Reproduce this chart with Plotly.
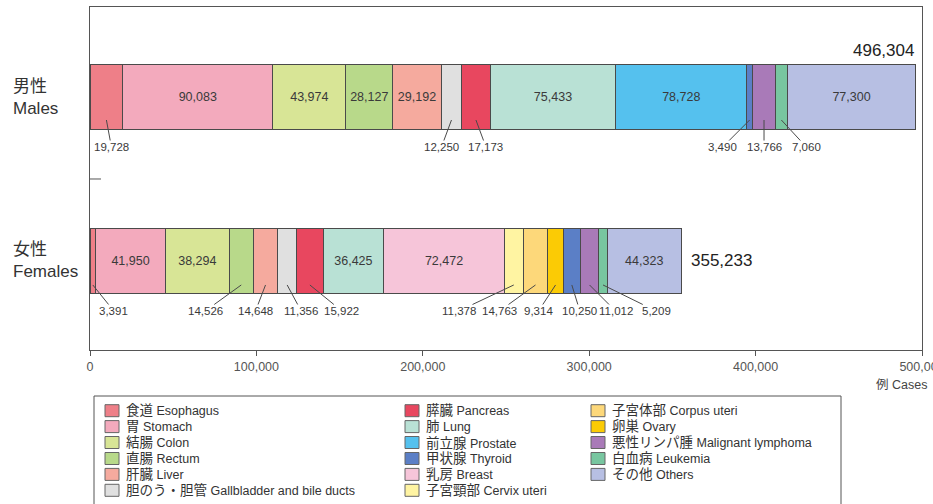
import plotly.graph_objects as go

# ---------------- data ----------------
sexes = ["Males", "Females"]
sex_labels = ["男性<br>Males", "女性<br>Females"]

jp_names = ["食道", "胃", "結腸", "直腸", "肝臓", "胆のう・胆管",
            "膵臓", "肺", "前立腺", "甲状腺", "乳房", "子宮頸部",
            "子宮体部", "卵巣", "悪性リンパ腫", "白血病", "その他"]
en_names = ["Esophagus", "Stomach", "Colon", "Rectum", "Liver", "Gallbladder and bile ducts",
            "Pancreas", "Lung", "Prostate", "Thyroid", "Breast", "Cervix uteri",
            "Corpus uteri", "Ovary", "Malignant lymphoma", "Leukemia", "Others"]
colors = ["#ee7f88", "#f3aabd", "#d8e596", "#b8d98a", "#f5aa9e", "#e0e0e0",
          "#e8475f", "#b9e1d5", "#55c1ee", "#5b7fc6", "#f6c5d9", "#fff4a2",
          "#fdd87a", "#fbcb05", "#a97ab8", "#78c6a0", "#b7bfe3"]
male_cases = [19728, 90083, 43974, 28127, 29192, 12250,
              17173, 75433, 78728, 3490, 0, 0,
              0, 0, 13766, 7060, 77300]
female_cases = [3391, 41950, 38294, 14526, 14648, 11356,
                15922, 36425, 0, 10250, 72472, 11378,
                14763, 9314, 11012, 5209, 44323]
stack_order = ["Esophagus", "Stomach", "Colon", "Rectum", "Liver", "Gallbladder and bile ducts",
               "Pancreas", "Lung", "Prostate", "Breast", "Cervix uteri", "Corpus uteri",
               "Ovary", "Thyroid", "Malignant lymphoma", "Leukemia", "Others"]
x_ticks = [0, 100000, 200000, 300000, 400000, 500000]
x_tick_labels = ["0", "100,000", "200,000", "300,000", "400,000", "500,000"]

# ---------------- style ----------------
FONT = "Liberation Sans, Noto Sans CJK JP, sans-serif"
W, H = 933, 504
ML, MR, MT, MB = 90, 11, 7, 154
PW, PH = W - ML - MR, H - MT - MB
INSIDE_MIN = 25000

def px_x(p):
    return (p - ML) / PW

def px_y(p):
    return (H - MB - p) / PH

# label offsets (pixels) for the small segments
offsets = {
    "Males": {"Esophagus": 5, "Gallbladder and bile ducts": -10, "Pancreas": 10,
              "Thyroid": -27, "Malignant lymphoma": 0, "Leukemia": 25},
    "Females": {"Esophagus": 21, "Rectum": -36, "Liver": -10, "Gallbladder and bile ducts": 14,
                "Pancreas": 32, "Cervix uteri": -55, "Corpus uteri": -36, "Ovary": -17,
                "Thyroid": 8, "Malignant lymphoma": 26, "Leukemia": 53},
}
tip_shift = {"Males": -23, "Females": -24}
label_drop = {"Males": 27, "Females": 26}

values_by_sex = {"Males": male_cases, "Females": female_cases}

fig = go.Figure()
for name in stack_order:
    i = en_names.index(name)
    vals = [male_cases[i], female_cases[i]]
    fig.add_trace(go.Bar(
        orientation="h", y=sexes, x=vals, name=name,
        marker=dict(color=colors[i], line=dict(color="#4a4a4a", width=1)),
        text=[f"{v:,}" if v >= INSIDE_MIN else "" for v in vals],
        textposition="inside", insidetextanchor="middle", textangle=0,
        insidetextfont=dict(family=FONT, size=12.5, color="#3a3a3a"),
        showlegend=False, hoverinfo="x+name",
    ))

annotations = []
for sex in sexes:
    vals = values_by_sex[sex]
    cum = 0
    for name in stack_order:
        v = vals[en_names.index(name)]
        if 0 < v < INSIDE_MIN:
            annotations.append(dict(
                x=cum + v / 2, y=sex, xref="x", yref="y", yshift=tip_shift[sex],
                text=f"{v:,}", showarrow=True, arrowhead=0, arrowwidth=1,
                arrowcolor="#4a4a4a", ax=offsets[sex].get(name, 0), ay=label_drop[sex],
                font=dict(family=FONT, size=11.5, color="#3a3a3a"), borderpad=0,
            ))
        cum += v

# totals
m_total = sum(male_cases)
f_total = sum(female_cases)
annotations.append(dict(x=m_total, y="Males", xref="x", yref="y", xanchor="right",
                        yshift=47, xshift=0, showarrow=False, text=f"{m_total:,}",
                        font=dict(family=FONT, size=17, color="#222")))
annotations.append(dict(x=f_total, y="Females", xref="x", yref="y", xanchor="left",
                        xshift=8, showarrow=False, text=f"{f_total:,}",
                        font=dict(family=FONT, size=17, color="#222")))

# sex labels
for sex, lab in zip(sexes, sex_labels):
    annotations.append(dict(x=px_x(11), y=sex, xref="paper", yref="y", xanchor="left",
                            align="left", showarrow=False, text=lab,
                            font=dict(family=FONT, size=17, color="#333")))

# axis unit
annotations.append(dict(x=px_x(874), y=px_y(385), xref="paper", yref="paper",
                        xanchor="left", yanchor="middle",
                        showarrow=False, text="例 Cases",
                        font=dict(family=FONT, size=12.5, color="#444")))

shapes = []
# small divider tick on the left axis
shapes.append(dict(type="line", xref="paper", yref="y", x0=0, x1=px_x(101), y0=0.5, y1=0.5,
                   line=dict(color="#555", width=1)))

# legend box (manual, column-major)
shapes.append(dict(type="rect", xref="paper", yref="paper", x0=px_x(94), x1=px_x(841),
                   y0=px_y(506), y1=px_y(396), line=dict(color="#555", width=1),
                   fillcolor="rgba(0,0,0,0)"))
col_sw = [105, 405, 591]
row_y = [410.7, 426.6, 442.5, 458.5, 474.4, 490.3]
for k in range(len(en_names)):
    c, r = divmod(k, 6)
    sx = col_sw[c]
    yc = row_y[r]
    shapes.append(dict(type="rect", xref="paper", yref="paper",
                       x0=px_x(sx), x1=px_x(sx + 14), y0=px_y(yc + 6), y1=px_y(yc - 6),
                       fillcolor=colors[k], line=dict(color="#666", width=1)))
    annotations.append(dict(x=px_x(sx + 19), y=px_y(yc), xref="paper", yref="paper",
                            xanchor="left", yanchor="middle", showarrow=False,
                            text=f"<span style='font-size:13.5px'>{jp_names[k]}</span> {en_names[k]}",
                            font=dict(family=FONT, size=12.5, color="#333")))

fig.update_layout(
    width=W, height=H,
    margin=dict(l=ML, r=MR, t=MT, b=MB, autoexpand=False),
    barmode="stack", bargap=0.6,
    paper_bgcolor="white", plot_bgcolor="white",
    font=dict(family=FONT, size=11, color="#444"),
    annotations=annotations, shapes=shapes,
)
fig.update_xaxes(range=[0, 500000], tickvals=x_ticks, ticktext=x_tick_labels,
                 ticks="outside", ticklen=5, tickcolor="#555",
                 showline=True, mirror=True, linecolor="#555", linewidth=1,
                 showgrid=False, zeroline=False, tickfont=dict(size=12.5, color="#555"),
                 ticklabeloverflow="allow", fixedrange=True)
fig.update_yaxes(type="category", categoryorder="array", categoryarray=["Females", "Males"],
                 range=[-0.543, 1.549], showticklabels=False, ticks="",
                 showline=True, mirror=True, linecolor="#555", linewidth=1,
                 showgrid=False, zeroline=False, fixedrange=True)

fig.write_html("out.html", config={"displayModeBar": False},
               post_script="document.body.style.margin='0';")
